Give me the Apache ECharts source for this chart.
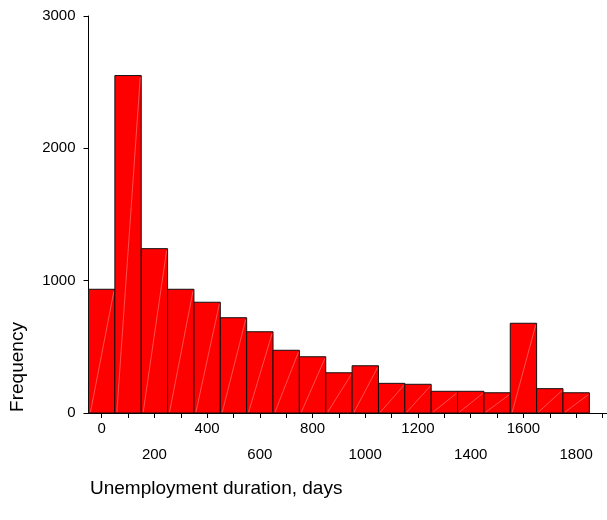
<!DOCTYPE html>
<html>
<head>
<meta charset="utf-8">
<script src="https://cdn.jsdelivr.net/npm/echarts@6.0.0/dist/echarts.min.js"></script>
<style>
  html, body { margin: 0; padding: 0; background: #fff; }
  #histChart { width: 607px; height: 520px; }
</style>
</head>
<body>
<div id="histChart"></div>
<script>
// bin centres (days) and counts
var binCentres = [0, 100, 200, 300, 400, 500, 600, 700, 800, 900, 1000, 1100, 1200, 1300, 1400, 1500, 1600, 1700, 1800];
var frequencies = [935, 2550, 1242, 935, 837, 720, 614, 474, 425, 304, 357, 224, 217, 164, 164, 153, 678, 184, 153];
var binWidth = 100;
var xTicks = [0, 100, 200, 300, 400, 500, 600, 700, 800, 900, 1000, 1100, 1200, 1300, 1400, 1500, 1600, 1700, 1800, 1900];
var xLabels = [0, 200, 400, 600, 800, 1000, 1200, 1400, 1600, 1800];
var yTicks = [0, 1000, 2000, 3000];

var fontName = 'Liberation Sans, Arial, sans-serif';

var chart = echarts.init(document.getElementById('histChart'));

var histData = binCentres.map(function (c, i) {
    return [c, frequencies[i]];
});

var option = {
    animation: false,
    textStyle: { fontFamily: fontName },
    grid: { left: 88.5, right: 0, top: 16, bottom: 107, outerBoundsMode: 'none' },
    title: {
        text: 'Unemployment duration, days',
        left: 85,
        top: 474,
        textStyle: { fontSize: 19, fontWeight: 'normal', color: '#000', fontFamily: fontName }
    },
    graphic: [{
        type: 'text',
        x: 18,
        y: 367,
        rotation: Math.PI / 2,
        style: {
            text: 'Frequency',
            fontSize: 19,
            fontFamily: fontName,
            fill: '#000',
            align: 'center',
            verticalAlign: 'middle'
        }
    }],
    xAxis: {
        type: 'value',
        min: -binWidth / 2,
        max: 1917,
        splitLine: { show: false },
        axisLine: { show: true, onZero: false, lineStyle: { color: '#000', width: 1 } },
        axisTick: { show: true, length: 5, customValues: xTicks, lineStyle: { color: '#000' } },
        axisLabel: {
            customValues: xLabels,
            fontSize: 15,
            color: '#000',
            margin: 3,
            lineHeight: 26,
            formatter: function (v) {
                // labels alternate between two rows
                return v % 400 === 0 ? String(v) : '\n' + v;
            }
        }
    },
    yAxis: {
        type: 'value',
        min: 0,
        max: 3000,
        splitLine: { show: false },
        axisLine: { show: true, onZero: false, lineStyle: { color: '#000', width: 1 } },
        axisTick: { show: true, length: 5, customValues: yTicks, lineStyle: { color: '#000' } },
        axisLabel: {
            customValues: yTicks,
            fontSize: 15,
            color: '#000',
            margin: 13,
            formatter: function (v) { return String(v); }
        }
    },
    series: [{
        type: 'custom',
        data: histData,
        renderItem: function (params, api) {
            var centre = api.value(0);
            var count = api.value(1);
            var bl = api.coord([centre - binWidth / 2, 0]);
            var tr = api.coord([centre + binWidth / 2, count]);
            return {
                type: 'group',
                children: [{
                    type: 'rect',
                    shape: { x: bl[0], y: tr[1], width: tr[0] - bl[0], height: bl[1] - tr[1] },
                    style: { fill: '#ff0000', stroke: '#111', lineWidth: 1 }
                }, {
                    type: 'line',
                    shape: { x1: bl[0] + 2, y1: bl[1] - 1, x2: tr[0] - 1, y2: tr[1] + 2 },
                    style: { stroke: 'rgba(255,190,190,0.7)', lineWidth: 0.6 }
                }]
            };
        }
    }]
};

chart.setOption(option);
</script>
</body>
</html>
